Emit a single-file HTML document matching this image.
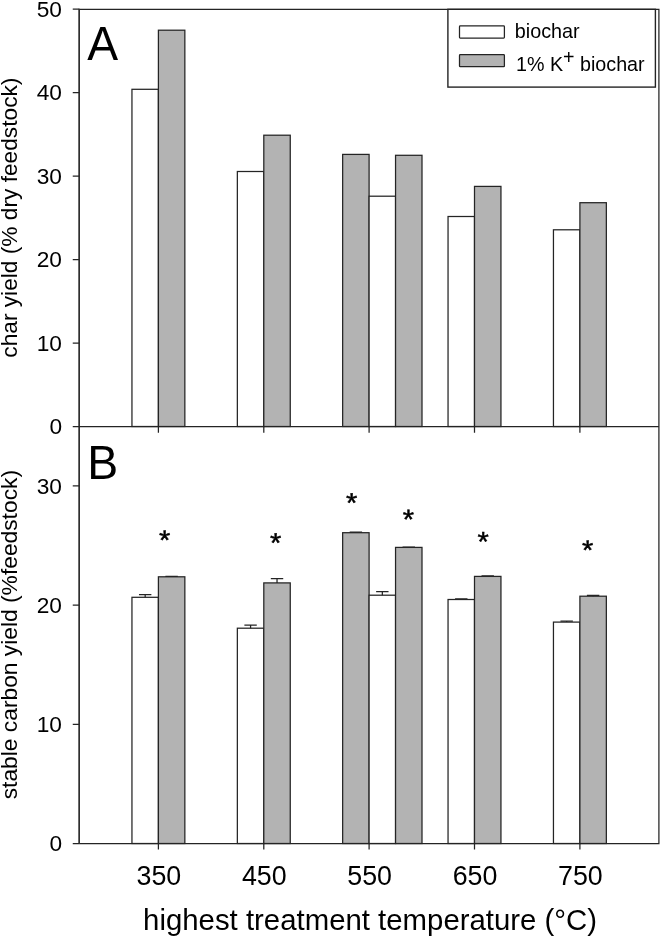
<!DOCTYPE html>
<html><head><meta charset="utf-8"><title>Biochar yield</title>
<style>html,body{margin:0;padding:0;background:#fff;width:660px;height:937px;overflow:hidden}svg{display:block}text{font-family:"Liberation Sans",Arial,Helvetica,sans-serif;fill:#000}</style>
</head><body>
<svg width="660" height="937" viewBox="0 0 660 937">
<rect x="0" y="0" width="660" height="937" fill="#fff"/>
<g stroke="#242424" stroke-width="1.25" fill="none">
<rect x="131.95" y="89.3" width="26.45" height="337.2" fill="#fff"/>
<rect x="158.4" y="30.2" width="26.45" height="396.3" fill="#b3b3b3"/>
<rect x="237.35" y="171.5" width="26.45" height="255.0" fill="#fff"/>
<rect x="263.8" y="135.2" width="26.45" height="291.3" fill="#b3b3b3"/>
<rect x="448.05" y="216.5" width="26.45" height="210.0" fill="#fff"/>
<rect x="474.5" y="186.4" width="26.45" height="240.1" fill="#b3b3b3"/>
<rect x="553.45" y="229.8" width="26.45" height="196.7" fill="#fff"/>
<rect x="579.9" y="202.7" width="26.45" height="223.8" fill="#b3b3b3"/>
<rect x="342.65" y="154.4" width="26.45" height="272.1" fill="#b3b3b3"/>
<rect x="369.1" y="196.2" width="26.45" height="230.3" fill="#fff"/>
<rect x="395.55" y="155.3" width="26.45" height="271.2" fill="#b3b3b3"/>
<rect x="131.95" y="597.3" width="26.45" height="246.2" fill="#fff"/>
<rect x="158.4" y="576.8" width="26.45" height="266.7" fill="#b3b3b3"/>
<path d="M145.18 597.3V594.7M138.98 594.7H151.38"/>
<path d="M171.62 576.8V576.3M165.42 576.3H177.82"/>
<rect x="237.35" y="628.2" width="26.45" height="215.3" fill="#fff"/>
<rect x="263.8" y="582.9" width="26.45" height="260.6" fill="#b3b3b3"/>
<path d="M250.58 628.2V625.2M244.38 625.2H256.78"/>
<path d="M277.03 582.9V578.5M270.83 578.5H283.23"/>
<rect x="448.05" y="599.5" width="26.45" height="244.0" fill="#fff"/>
<rect x="474.5" y="576.4" width="26.45" height="267.1" fill="#b3b3b3"/>
<path d="M461.27 599.5V598.9M455.07 598.9H467.47"/>
<path d="M487.73 576.4V575.9M481.53 575.9H493.93"/>
<rect x="553.45" y="622.1" width="26.45" height="221.4" fill="#fff"/>
<rect x="579.9" y="596.2" width="26.45" height="247.3" fill="#b3b3b3"/>
<path d="M566.67 622.1V621.2M560.47 621.2H572.87"/>
<path d="M593.12 596.2V595.3M586.92 595.3H599.32"/>
<rect x="342.65" y="532.7" width="26.45" height="310.8" fill="#b3b3b3"/>
<rect x="369.1" y="595.2" width="26.45" height="248.3" fill="#fff"/>
<rect x="395.55" y="547.4" width="26.45" height="296.1" fill="#b3b3b3"/>
<path d="M355.88 532.7V532.1M349.68 532.1H362.08"/>
<path d="M382.33 595.2V591.5M376.13 591.5H388.53"/>
<path d="M408.78 547.4V547.0M402.58 547.0H414.98"/>
<path d="M79.15 9.3H658.9V843.5H79.15"/>
<path d="M79.15 8.7V844.1" stroke-width="1.7" stroke="#2e2e2e"/>
<path d="M79.15 426.5H658.9"/>
<path d="M72.75 426.5H79.15M72.75 343.0H79.15M72.75 259.5H79.15M72.75 176.0H79.15M72.75 92.5H79.15M72.75 9.0H79.15M72.75 843.5H79.15M72.75 724.33H79.15M72.75 605.16H79.15M72.75 485.99H79.15M158.4 426.5V432.7M158.4 843.5V849.5M263.8 426.5V432.7M263.8 843.5V849.5M369.1 426.5V432.7M369.1 843.5V849.5M474.5 426.5V432.7M474.5 843.5V849.5M579.9 426.5V432.7M579.9 843.5V849.5"/>
<rect x="447.9" y="9.3" width="207.5" height="77.8" fill="#fff" stroke-width="1.4"/>
<rect x="459.5" y="25.9" width="44.9" height="12.1" rx="0.8" fill="#fff"/>
<rect x="459.5" y="54.6" width="44.9" height="12.1" rx="0.8" fill="#b3b3b3"/>
</g>
<text x="62.0" y="434.3" font-size="22.7" text-anchor="end">0</text>
<text x="62.0" y="350.8" font-size="22.7" text-anchor="end">10</text>
<text x="62.0" y="267.3" font-size="22.7" text-anchor="end">20</text>
<text x="62.0" y="183.8" font-size="22.7" text-anchor="end">30</text>
<text x="62.0" y="100.3" font-size="22.7" text-anchor="end">40</text>
<text x="62.0" y="16.8" font-size="22.7" text-anchor="end">50</text>
<text x="62.0" y="851.3" font-size="22.7" text-anchor="end">0</text>
<text x="62.0" y="732.13" font-size="22.7" text-anchor="end">10</text>
<text x="62.0" y="612.96" font-size="22.7" text-anchor="end">20</text>
<text x="62.0" y="493.79" font-size="22.7" text-anchor="end">30</text>
<text x="158.9" y="885.3" font-size="26.8" text-anchor="middle">350</text>
<text x="264.3" y="885.3" font-size="26.8" text-anchor="middle">450</text>
<text x="369.6" y="885.3" font-size="26.8" text-anchor="middle">550</text>
<text x="475.0" y="885.3" font-size="26.8" text-anchor="middle">650</text>
<text x="580.4" y="885.3" font-size="26.8" text-anchor="middle">750</text>
<text x="143.1" y="929.9" font-size="29.2" text-anchor="start" textLength="454" lengthAdjust="spacingAndGlyphs">highest treatment temperature (°C)</text>
<text transform="translate(87.3 60) scale(0.965 1)" font-size="48">A</text>
<text transform="translate(87.3 479.2) scale(0.965 1)" font-size="48">B</text>
<text x="514.8" y="38" font-size="19.8" text-anchor="start">biochar</text>
<text x="516.0" y="70.5" font-size="19.7">1% K<tspan dy="-6.5">+</tspan><tspan dy="6.5"> biochar</tspan></text>
<text transform="translate(17.2 357.7) rotate(-90)" font-size="22.7" textLength="280.1" lengthAdjust="spacingAndGlyphs">char yield (% dry feedstock)</text>
<text transform="translate(17.2 799.3) rotate(-90)" font-size="22.8" textLength="329.3" lengthAdjust="spacingAndGlyphs">stable carbon yield (%feedstock)</text>
<text transform="translate(158.95 549.4) rotate(0.05) scale(0.92 0.88)" font-size="31.5" stroke="#000" stroke-width="0.55">*</text>
<text transform="translate(269.95 552.2) rotate(0.05) scale(0.92 0.88)" font-size="31.5" stroke="#000" stroke-width="0.55">*</text>
<text transform="translate(345.9 512.3) rotate(0.05) scale(0.92 0.88)" font-size="31.5" stroke="#000" stroke-width="0.55">*</text>
<text transform="translate(402.85 528.7) rotate(0.05) scale(0.92 0.88)" font-size="31.5" stroke="#000" stroke-width="0.55">*</text>
<text transform="translate(477.4 550.9) rotate(0.05) scale(0.92 0.88)" font-size="31.5" stroke="#000" stroke-width="0.55">*</text>
<text transform="translate(581.9 559.4) rotate(0.05) scale(0.92 0.88)" font-size="31.5" stroke="#000" stroke-width="0.55">*</text>
</svg></body></html>
